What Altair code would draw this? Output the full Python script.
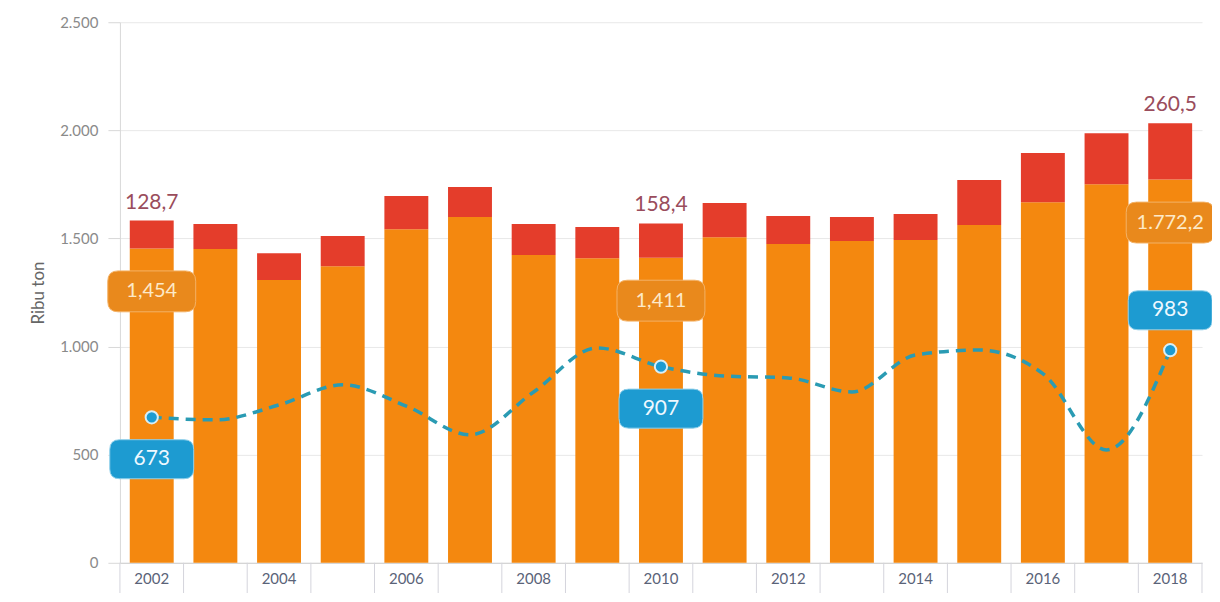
import altair as alt
import pandas as pd

years = list(range(2002, 2019))
orange_vals = [1454, 1451, 1308, 1372, 1543, 1599, 1423, 1409, 1411, 1506, 1474, 1488, 1493, 1562, 1668, 1751, 1772.2]
red_vals = [128.7, 116, 124, 139, 153, 139, 144, 144, 158.4, 158, 130, 111, 120, 208, 227, 236, 260.5]
line_vals = [673, 661, 730, 823, 725, 592, 790, 994, 907, 864, 855, 790, 961, 984, 875, 522, 983]

ann_years = [2002, 2010, 2018]
red_labels = ["128,7", "158,4", "260,5"]
orange_labels = ["1,454", "1,411", "1.772,2"]
blue_labels = ["673", "907", "983"]

W, H = 1083, 541
STEP = W / len(years)

df = pd.DataFrame({"year": years, "orange": orange_vals, "red": red_vals, "line": line_vals})
df["total"] = df["orange"] + df["red"]

ann = df[df["year"].isin(ann_years)].copy()
ann["red_lab"] = red_labels
ann["orange_lab"] = orange_labels
ann["blue_lab"] = blue_labels

FONT = "Lato"
ORANGE = "#f4880f"
RED = "#e43d2b"
TEAL = "#2a9bb3"
BLUE_BOX = "#1d9bd1"
ORANGE_BOX = "#e9891c"

xscale = alt.Scale(paddingInner=0.31, paddingOuter=0.155)
yscale = alt.Scale(domain=[0, 2500])

x_enc = alt.X("year:O", scale=xscale, title=None,
              axis=alt.Axis(labelExpr="toNumber(datum.value) % 2 == 0 ? datum.label : ''",
                            labelAngle=0, ticks=False, domain=True, domainColor="#cfcfcf",
                            labelFontSize=15, labelColor="#5a6378", labelFont=FONT,
                            labelPadding=9))
y_enc = alt.Y("orange:Q", scale=yscale, title="Ribu ton",
              axis=alt.Axis(values=[0, 500, 1000, 1500, 2000, 2500],
                            labelExpr="replace(format(datum.value, ','), ',', '.')",
                            grid=True, gridColor="#e8e8e8", domain=True, domainColor="#d8d8d8",
                            ticks=True, tickSize=12, tickColor="#d8d8d8",
                            labelFontSize=15, labelColor="#8a8a8a", labelFont=FONT,
                            labelPadding=10, titleFontSize=17, titleColor="#666666",
                            titleFont=FONT, titleFontWeight="normal", titlePadding=12))

base = alt.Chart(df)

tick_rules = base.mark_rule(color="#d4d4dc", strokeWidth=1, xOffset=-STEP / 2).encode(
    x=alt.X("year:O", scale=xscale), y=alt.value(H), y2=alt.value(H + 36))
end_rule = alt.Chart(df.head(1)).mark_rule(color="#d4d4dc", strokeWidth=1).encode(
    x=alt.value(W), y=alt.value(H), y2=alt.value(H + 36))

bars_orange = base.mark_bar(color=ORANGE).encode(x=x_enc, y=y_enc)
bars_red = base.mark_bar(color=RED).encode(
    x=alt.X("year:O", scale=xscale), y=alt.Y("orange:Q", scale=yscale), y2="total:Q")

line = base.mark_line(color=TEAL, strokeWidth=3.5, strokeDash=[10, 7], interpolate="monotone").encode(
    x=alt.X("year:O", scale=xscale), y=alt.Y("line:Q", scale=yscale))

a = alt.Chart(ann)
dots = a.mark_point(filled=True, color=BLUE_BOX, size=150, opacity=1, stroke="#d8eef7", strokeWidth=2).encode(
    x=alt.X("year:O", scale=xscale), y=alt.Y("line:Q", scale=yscale))

top_text = a.mark_text(color="#9a4c5c", fontSize=21, font=FONT, dy=-18, baseline="middle").encode(
    x=alt.X("year:O", scale=xscale), y=alt.Y("total:Q", scale=yscale), text="red_lab:N")

RR = "M -0.767 -0.465 L 0.767 -0.465 Q 1 -0.465 1 -0.232 L 1 0.232 Q 1 0.465 0.767 0.465 L -0.767 0.465 Q -1 0.465 -1 0.232 L -1 -0.232 Q -1 -0.465 -0.767 -0.465 Z"

orange_box = a.mark_point(shape=RR, filled=True, color=ORANGE_BOX, opacity=1, size=88 * 88,
                          stroke="#f3b266", strokeWidth=1, yOffset=43).encode(
    x=alt.X("year:O", scale=xscale), y=alt.Y("orange:Q", scale=yscale))
orange_txt = a.mark_text(color="#fde9c8", fontSize=20, font=FONT, yOffset=43, baseline="middle").encode(
    x=alt.X("year:O", scale=xscale), y=alt.Y("orange:Q", scale=yscale), text="orange_lab:N")

blue_dn = alt.Chart(ann[ann["year"] != 2018])
blue_up = alt.Chart(ann[ann["year"] == 2018])


def blue_layers(src, off):
    box = src.mark_point(shape=RR, filled=True, color=BLUE_BOX, opacity=1, size=84 * 84,
                         stroke="#8fcfea", strokeWidth=1, yOffset=off).encode(
        x=alt.X("year:O", scale=xscale), y=alt.Y("line:Q", scale=yscale))
    txt = src.mark_text(color="#eef8ff", fontSize=21, font=FONT, yOffset=off, baseline="middle").encode(
        x=alt.X("year:O", scale=xscale), y=alt.Y("line:Q", scale=yscale), text="blue_lab:N")
    return box, txt


bb1, bt1 = blue_layers(blue_dn, 42)
bb2, bt2 = blue_layers(blue_up, -40)

chart = alt.layer(
    bars_orange, bars_red, tick_rules, end_rule, line, dots, top_text,
    orange_box, orange_txt, bb1, bt1, bb2, bt2
).properties(
    width=W, height=H,
    autosize=alt.AutoSizeParams(type="none"),
    padding={"left": 112, "top": 14, "right": 10, "bottom": 30},
).configure_view(stroke=None)

chart.save("out.html", embed_options={"renderer": "svg", "actions": False})
